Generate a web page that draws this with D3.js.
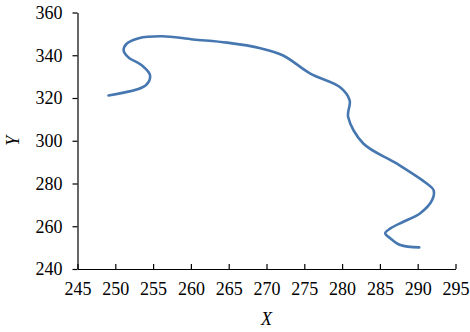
<!DOCTYPE html>
<html>
<head>
<meta charset="utf-8">
<script src="https://cdn.jsdelivr.net/npm/d3@7"></script>
<style>
  body { margin: 0; background: #fff; }
</style>
</head>
<body>
<svg id="chart" width="470" height="332"></svg>
<script>
// traced points of the curve, in data units
const xs = [249.1, 254.0, 254.6, 253.5, 251.7, 251.1, 251.5, 253.1, 256.2, 260.3, 264.8, 269.2, 272.2, 275.8,
            279.7, 281.0, 280.8, 282.8, 287.2, 291.2, 292.1, 291.9, 290.3, 288.1, 286.4, 285.7, 286.4, 287.7, 290.2];
const ys = [321.2, 325.9, 330.6, 335.3, 339.1, 342.3, 345.4, 348.0, 348.9, 347.4, 345.9, 343.3, 339.9, 331.4,
            325.1, 318.9, 311.1, 298.7, 289.4, 280.0, 276.9, 272.2, 266.0, 262.1, 259.0, 256.7, 254.3, 251.2, 250.1];
const xTicks = [245, 250, 255, 260, 265, 270, 275, 280, 285, 290, 295];
const yTicks = [240, 260, 280, 300, 320, 340, 360];

const FONT = "Liberation Serif";
const svg = d3.select("#chart");
const margin = {left: 77.5, top: 12.5, right: 14.5, bottom: 63};
const W = 470, H = 332;

const x = d3.scaleLinear().domain([245, 295]).range([margin.left, W - margin.right]);
const y = d3.scaleLinear().domain([240, 360]).range([H - margin.bottom, margin.top]);

// x axis, ticks pointing up into the plot
const gx = svg.append("g")
    .attr("transform", "translate(0," + y(240) + ")")
    .call(d3.axisBottom(x).tickValues(xTicks).tickSize(-5).tickSizeOuter(0).tickPadding(13));

// y axis, ticks pointing out
const gy = svg.append("g")
    .attr("transform", "translate(" + x(245) + ",0)")
    .call(d3.axisLeft(y).tickValues(yTicks).tickSize(5).tickSizeOuter(0).tickPadding(10));

svg.selectAll("g").attr("font-family", FONT).attr("font-size", 18);
svg.selectAll(".tick text").attr("fill", "#000").style("font-family", FONT).style("font-size", "18px");
svg.selectAll(".domain, .tick line").attr("stroke", "#000").attr("stroke-width", 1.2);

// axis titles
svg.append("text")
    .attr("x", x(270)).attr("y", 325)
    .attr("text-anchor", "middle")
    .style("font-family", FONT).style("font-size", "18px").style("font-style", "italic")
    .text("X");
svg.append("text")
    .attr("transform", "translate(19," + y(300) + ") rotate(-90)")
    .attr("text-anchor", "middle")
    .style("font-family", FONT).style("font-size", "18px").style("font-style", "italic")
    .text("Y");

// the smoothed line
const pts = xs.map((d, i) => [d, ys[i]]);
const line = d3.line()
    .x(d => x(d[0]))
    .y(d => y(d[1]))
    .curve(d3.curveCatmullRom.alpha(0.5));

svg.append("path")
    .datum(pts)
    .attr("d", line)
    .attr("fill", "none")
    .attr("stroke", "#4677b0")
    .attr("stroke-width", 2.6)
    .attr("stroke-linecap", "round");
</script>
</body>
</html>
